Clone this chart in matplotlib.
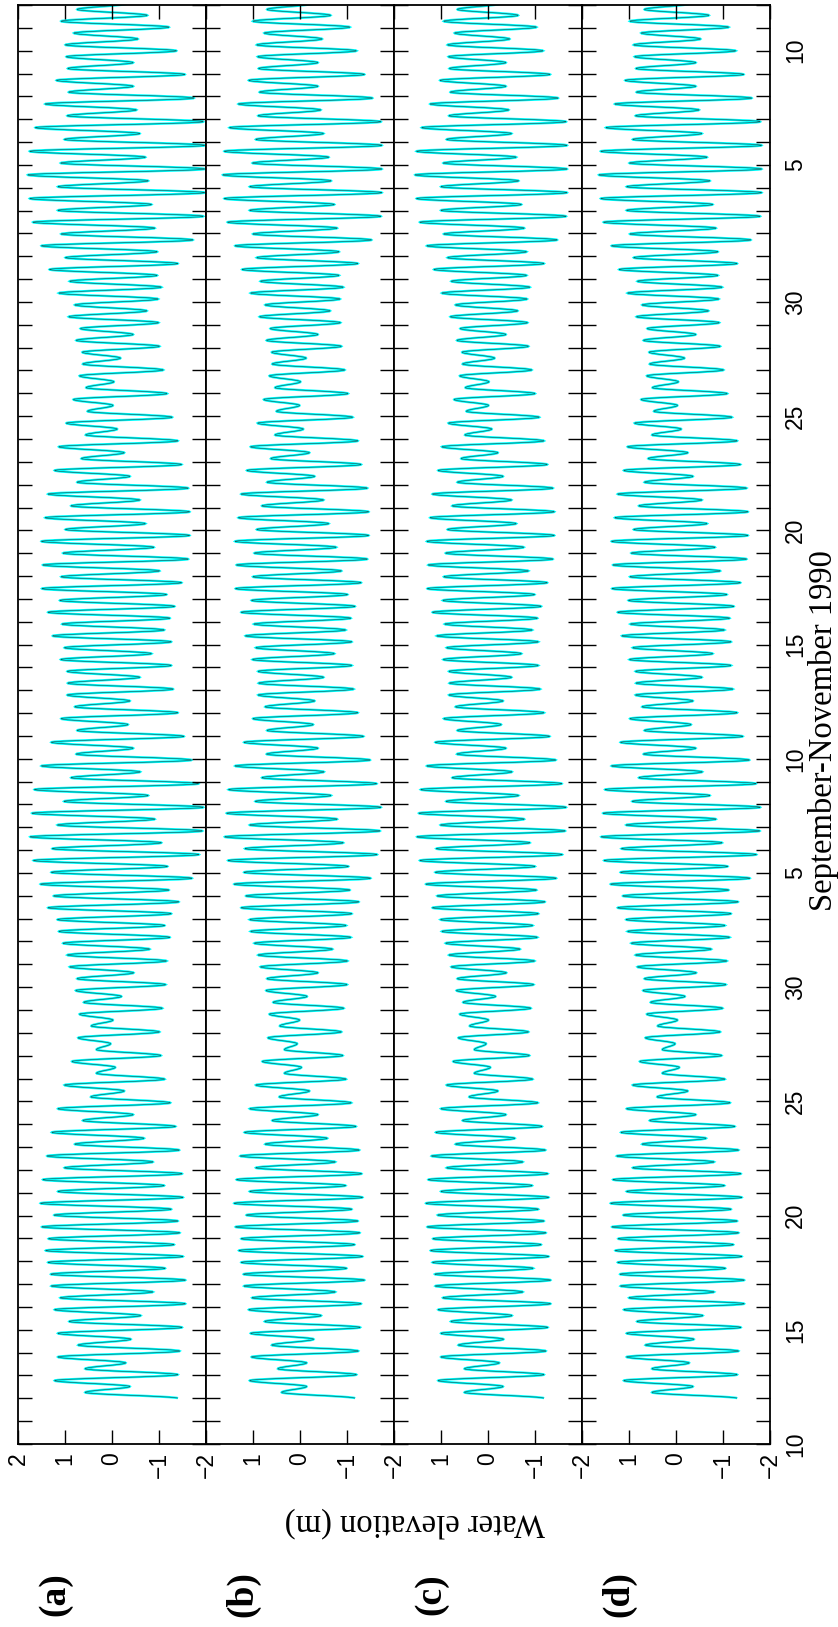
import matplotlib.pyplot as plt
from matplotlib.path import Path
from matplotlib.patches import PathPatch
import numpy as np

# Successive low and high waters (m), one every half M2 period,
# starting 12 Sep 1990 00:00.  Time axis is in days after 10 Sep 1990.
STEP = 12.42 / 2 / 24
START = 2.0

elev_a = [
    -1.40, 0.57, -0.38, 1.22, -1.40, 0.57, -0.29, 1.15, -1.44, 0.72, -0.40, 1.15,
    -1.49, 0.91, -0.61, 1.22, -1.56, 1.10, -0.87, 1.29, -1.56, 1.30, -1.13, 1.36,
    -1.51, 1.41, -1.32, 1.35, -1.44, 1.49, -1.40, 1.23, -1.26, 1.52,
    -1.51, 1.15, -1.11, 1.47, -1.49, 1.01, -0.87, 1.38, -1.43, 0.79, -0.68, 1.28,
    -1.35, 0.62, -0.45, 1.15, -1.24, 0.45, -0.26, 1.01, -1.12, 0.33, -0.07, 0.85,
    -1.04, 0.33, 0.03, 0.72, -1.01, 0.44, -0.02, 0.69, -1.07, 0.60, -0.20, 0.77,
    -1.14, 0.74, -0.46, 0.90, -1.16,
    0.95, -0.80, 1.04, -1.23, 1.13, -1.12, 1.16, -1.26, 1.36, -1.42, 1.24, -1.21,
    1.52, -1.70, 1.29, -1.18, 1.67, -1.85, 1.27, -1.05, 1.74, -1.92, 1.16, -0.91,
    1.70, -1.94, 1.02, -0.77, 1.65, -1.84, 0.87, -0.60, 1.50, -1.69, 0.76, -0.45,
    1.29, -1.53, 0.74, -0.34, 1.08,
    -1.40, 0.79, -0.38, 0.95, -1.30, 0.94, -0.59, 0.95, -1.26, 1.09, -0.84, 1.01,
    -1.26, 1.26, -1.11, 1.06, -1.23, 1.36, -1.33, 1.11, -1.16, 1.49, -1.48, 1.08,
    -1.01, 1.47, -1.62, 1.04, -0.89, 1.50, -1.65, 0.99, -0.71, 1.42, -1.65, 0.87,
    -0.59, 1.36, -1.62, 0.74,
    -0.38, 1.22, -1.48, 0.65, -0.26, 1.13, -1.40, 0.56, -0.11, 0.97, -1.28, 0.52,
    -0.02, 0.82, -1.17, 0.55, -0.04, 0.69, -1.09, 0.62, -0.18, 0.63, -1.01, 0.76,
    -0.45, 0.67, -0.99, 0.92, -0.74, 0.79, -0.98, 1.13, -1.05, 0.90, -0.96, 1.33,
    -1.40, 0.99, -0.96, 1.50, -1.72,
    1.08, -0.91, 1.68, -1.94, 1.15, -0.84, 1.75, -1.97, 1.15, -0.77, 1.79, -1.97,
    1.09, -0.71, 1.75, -1.97, 1.01, -0.59, 1.63, -1.94, 0.95, -0.52, 1.42, -1.74,
    0.92, -0.45, 1.18, -1.55, 0.94, -0.45, 0.97, -1.37, 0.99, -0.55, 0.81, -1.21,
    1.08, -0.75, 0.74, -0.33,
]

elev_b = [
    -1.17, 0.39, -0.14, 1.07, -1.20, 0.47, -0.14, 1.03, -1.24, 0.60, -0.29, 1.05,
    -1.28, 0.75, -0.45, 1.09, -1.30, 1.02, -0.75, 1.19, -1.37, 1.20, -0.99, 1.25,
    -1.33, 1.30, -1.16, 1.25, -1.27, 1.37, -1.23, 1.14, -1.10, 1.40,
    -1.33, 1.07, -0.97, 1.35, -1.31, 0.94, -0.75, 1.27, -1.26, 0.74, -0.58, 1.18,
    -1.19, 0.59, -0.38, 1.07, -1.09, 0.44, -0.20, 0.94, -0.98, 0.33, -0.03, 0.80,
    -0.91, 0.33, 0.06, 0.68, -0.88, 0.43, 0.01, 0.65, -0.93, 0.57, -0.15, 0.72,
    -1.00, 0.70, -0.38, 0.84, -1.01,
    0.89, -0.69, 0.97, -1.08, 1.05, -0.98, 1.07, -1.10, 1.25, -1.25, 1.15, -1.06,
    1.40, -1.50, 1.19, -1.03, 1.53, -1.64, 1.17, -0.92, 1.60, -1.70, 1.07, -0.79,
    1.56, -1.72, 0.95, -0.66, 1.52, -1.63, 0.81, -0.51, 1.38, -1.49, 0.71, -0.38,
    1.19, -1.35, 0.70, -0.28, 1.00,
    -1.23, 0.74, -0.31, 0.89, -1.14, 0.88, -0.50, 0.89, -1.10, 1.01, -0.73, 0.94,
    -1.10, 1.16, -0.97, 0.98, -1.08, 1.25, -1.17, 1.03, -1.01, 1.37, -1.30, 1.00,
    -0.88, 1.35, -1.43, 0.97, -0.77, 1.38, -1.46, 0.92, -0.61, 1.31, -1.46, 0.81,
    -0.50, 1.25, -1.43, 0.70,
    -0.31, 1.13, -1.30, 0.62, -0.20, 1.05, -1.23, 0.53, -0.07, 0.90, -1.12, 0.50,
    0.01, 0.77, -1.02, 0.53, -0.01, 0.65, -0.95, 0.59, -0.13, 0.60, -0.88, 0.71,
    -0.38, 0.63, -0.86, 0.86, -0.64, 0.74, -0.85, 1.05, -0.92, 0.84, -0.83, 1.23,
    -1.23, 0.92, -0.83, 1.38, -1.52,
    1.00, -0.79, 1.54, -1.72, 1.07, -0.73, 1.61, -1.74, 1.07, -0.66, 1.64, -1.74,
    1.01, -0.61, 1.61, -1.74, 0.94, -0.50, 1.50, -1.72, 0.89, -0.44, 1.31, -1.54,
    0.86, -0.38, 1.09, -1.37, 0.88, -0.38, 0.90, -1.20, 0.92, -0.47, 0.76, -1.06,
    1.00, -0.65, 0.70, -0.27,
]

elev_c = [
    -1.19, 0.50, -0.32, 1.06, -1.19, 0.50, -0.24, 1.00, -1.23, 0.63, -0.33, 1.00,
    -1.27, 0.79, -0.51, 1.06, -1.33, 0.96, -0.74, 1.12, -1.33, 1.13, -0.96, 1.18,
    -1.29, 1.22, -1.13, 1.17, -1.23, 1.29, -1.19, 1.07, -1.07, 1.32,
    -1.29, 1.00, -0.94, 1.27, -1.27, 0.88, -0.74, 1.20, -1.22, 0.69, -0.57, 1.11,
    -1.15, 0.54, -0.38, 1.00, -1.06, 0.40, -0.21, 0.88, -0.95, 0.29, -0.05, 0.74,
    -0.88, 0.29, 0.04, 0.63, -0.86, 0.39, -0.01, 0.60, -0.91, 0.53, -0.16, 0.67,
    -0.97, 0.65, -0.39, 0.78, -0.99,
    0.83, -0.68, 0.90, -1.05, 0.98, -0.95, 1.01, -1.07, 1.18, -1.21, 1.08, -1.03,
    1.32, -1.45, 1.12, -1.00, 1.45, -1.58, 1.10, -0.89, 1.51, -1.64, 1.01, -0.77,
    1.47, -1.66, 0.89, -0.65, 1.43, -1.57, 0.76, -0.51, 1.30, -1.44, 0.66, -0.38,
    1.12, -1.31, 0.65, -0.28, 0.94,
    -1.19, 0.69, -0.32, 0.83, -1.11, 0.82, -0.50, 0.83, -1.07, 0.95, -0.71, 0.88,
    -1.07, 1.09, -0.94, 0.92, -1.05, 1.18, -1.13, 0.96, -0.99, 1.29, -1.26, 0.94,
    -0.86, 1.27, -1.38, 0.90, -0.76, 1.30, -1.41, 0.86, -0.60, 1.23, -1.41, 0.76,
    -0.50, 1.18, -1.38, 0.65,
    -0.32, 1.06, -1.26, 0.57, -0.21, 0.98, -1.19, 0.49, -0.08, 0.84, -1.09, 0.46,
    -0.01, 0.72, -1.00, 0.48, -0.02, 0.60, -0.93, 0.54, -0.14, 0.55, -0.86, 0.66,
    -0.38, 0.59, -0.84, 0.80, -0.63, 0.69, -0.83, 0.98, -0.89, 0.78, -0.82, 1.15,
    -1.19, 0.86, -0.82, 1.30, -1.47,
    0.94, -0.77, 1.45, -1.66, 1.00, -0.71, 1.52, -1.68, 1.00, -0.65, 1.55, -1.68,
    0.95, -0.60, 1.52, -1.68, 0.88, -0.50, 1.41, -1.66, 0.83, -0.44, 1.23, -1.49,
    0.80, -0.38, 1.02, -1.32, 0.82, -0.38, 0.84, -1.17, 0.86, -0.46, 0.71, -1.03,
    0.94, -0.64, 0.65, -0.27,
]

elev_d = [
    -1.30, 0.51, -0.36, 1.11, -1.30, 0.51, -0.28, 1.05, -1.33, 0.65, -0.38, 1.05,
    -1.38, 0.83, -0.57, 1.11, -1.45, 1.00, -0.81, 1.18, -1.45, 1.19, -1.05, 1.24,
    -1.40, 1.29, -1.22, 1.23, -1.33, 1.36, -1.30, 1.12, -1.17, 1.39,
    -1.40, 1.05, -1.03, 1.34, -1.38, 0.92, -0.81, 1.26, -1.33, 0.72, -0.64, 1.17,
    -1.25, 0.56, -0.42, 1.05, -1.15, 0.40, -0.25, 0.92, -1.04, 0.29, -0.07, 0.77,
    -0.97, 0.29, 0.02, 0.65, -0.94, 0.39, -0.03, 0.62, -0.99, 0.54, -0.19, 0.70,
    -1.06, 0.67, -0.43, 0.82, -1.08,
    0.86, -0.75, 0.95, -1.14, 1.03, -1.04, 1.06, -1.17, 1.24, -1.32, 1.13, -1.12,
    1.39, -1.57, 1.18, -1.10, 1.53, -1.71, 1.16, -0.98, 1.59, -1.78, 1.06, -0.85,
    1.55, -1.79, 0.93, -0.72, 1.51, -1.70, 0.79, -0.56, 1.37, -1.56, 0.69, -0.42,
    1.18, -1.42, 0.67, -0.32, 0.98,
    -1.30, 0.72, -0.36, 0.86, -1.21, 0.85, -0.55, 0.86, -1.17, 0.99, -0.78, 0.92,
    -1.17, 1.15, -1.03, 0.97, -1.14, 1.24, -1.23, 1.01, -1.08, 1.36, -1.37, 0.98,
    -0.94, 1.34, -1.50, 0.95, -0.83, 1.37, -1.53, 0.90, -0.66, 1.30, -1.53, 0.79,
    -0.55, 1.24, -1.50, 0.67,
    -0.36, 1.11, -1.37, 0.59, -0.25, 1.03, -1.30, 0.51, -0.11, 0.88, -1.19, 0.47,
    -0.03, 0.74, -1.09, 0.50, -0.05, 0.62, -1.01, 0.56, -0.18, 0.57, -0.94, 0.69,
    -0.42, 0.61, -0.92, 0.84, -0.69, 0.72, -0.91, 1.03, -0.98, 0.82, -0.89, 1.21,
    -1.30, 0.90, -0.89, 1.37, -1.59,
    0.98, -0.85, 1.54, -1.79, 1.05, -0.78, 1.60, -1.82, 1.05, -0.72, 1.64, -1.82,
    0.99, -0.66, 1.60, -1.82, 0.92, -0.55, 1.49, -1.79, 0.86, -0.49, 1.30, -1.61,
    0.84, -0.42, 1.08, -1.44, 0.85, -0.42, 0.88, -1.27, 0.90, -0.52, 0.74, -1.12,
    0.98, -0.70, 0.67, -0.31,
]

panels = ["(a)", "(b)", "(c)", "(d)"]
observed = [elev_a, elev_b, elev_c, elev_d]
modelled = [elev_a, elev_b, elev_c, elev_d]

day_ticks = [0, 5, 10, 15, 20, 25, 30, 35, 40, 45, 50, 56, 61]
day_labels = ["10", "15", "20", "25", "30", "5", "10", "15", "20", "25", "30", "5", "10"]

SANS = "Liberation Sans"
SERIF = "Liberation Serif"


def tide_path(elev, k=0.36):
    # smooth curve through the extremes, flat at each high/low water
    t = START + STEP * np.arange(len(elev))
    verts = [(elev[0], t[0])]
    codes = [Path.MOVETO]
    for i in range(len(elev) - 1):
        dt = t[i + 1] - t[i]
        verts += [(elev[i], t[i] + k * dt), (elev[i + 1], t[i + 1] - k * dt),
                  (elev[i + 1], t[i + 1])]
        codes += [Path.CURVE4] * 3
    return Path(verts, codes)


fig = plt.figure(figsize=(8.38, 16.27), dpi=100)
left, right, bottom, top = 18 / 838, 770 / 838, 1 - 1444 / 1627, 1 - 5 / 1627
w = (right - left) / 4

for i in range(4):
    ax = fig.add_axes([left + i * w, bottom, w, top - bottom])
    ax.add_patch(PathPatch(tide_path(observed[i]), fill=False, color="#00ffff", lw=1.7))
    ax.add_patch(PathPatch(tide_path(modelled[i]), fill=False, color="#222222",
                           lw=0.45, alpha=0.75))
    ax.set_xlim(2, -2)
    ax.set_ylim(0, 63)

    ax.set_xticks([2, 1, 0, -1, -2])
    xl = ["2", "1", "0", "\u22121", "\u22122"]
    if i > 0:
        xl[0] = ""
    ax.set_xticklabels(xl, rotation=90, fontsize=16.5, family=SANS)
    ax.tick_params(axis="x", direction="in", top=True, bottom=True,
                   length=10, width=1.0, pad=6)

    ax.set_yticks(range(0, 64))
    ylab = [""] * 64
    for d, s in zip(day_ticks, day_labels):
        ylab[d] = s
    ax.set_yticklabels(ylab, rotation=90, va="center", fontsize=16.5, family=SANS)
    ax.tick_params(axis="y", direction="in", left=True, right=True,
                   labelleft=False, labelright=(i == 3),
                   length=10, width=1.0, pad=10)
    for sp in ax.spines.values():
        sp.set_linewidth(1.3)

    fig.text((55 + 188 * i) / 838, 1 - 1594 / 1627, panels[i], rotation=90,
             ha="center", va="center", fontsize=27, family=SERIF, weight="bold")

fig.text(823 / 838, 1 - 731 / 1627, "September-November 1990", rotation=90,
         ha="center", va="center", fontsize=23.5, family=SERIF)
fig.text(415 / 838, 1 - 1522 / 1627, "Water elevation (m)", rotation=180,
         ha="center", va="center", fontsize=23.5, family=SERIF)

fig.savefig("out.png", dpi=100)
